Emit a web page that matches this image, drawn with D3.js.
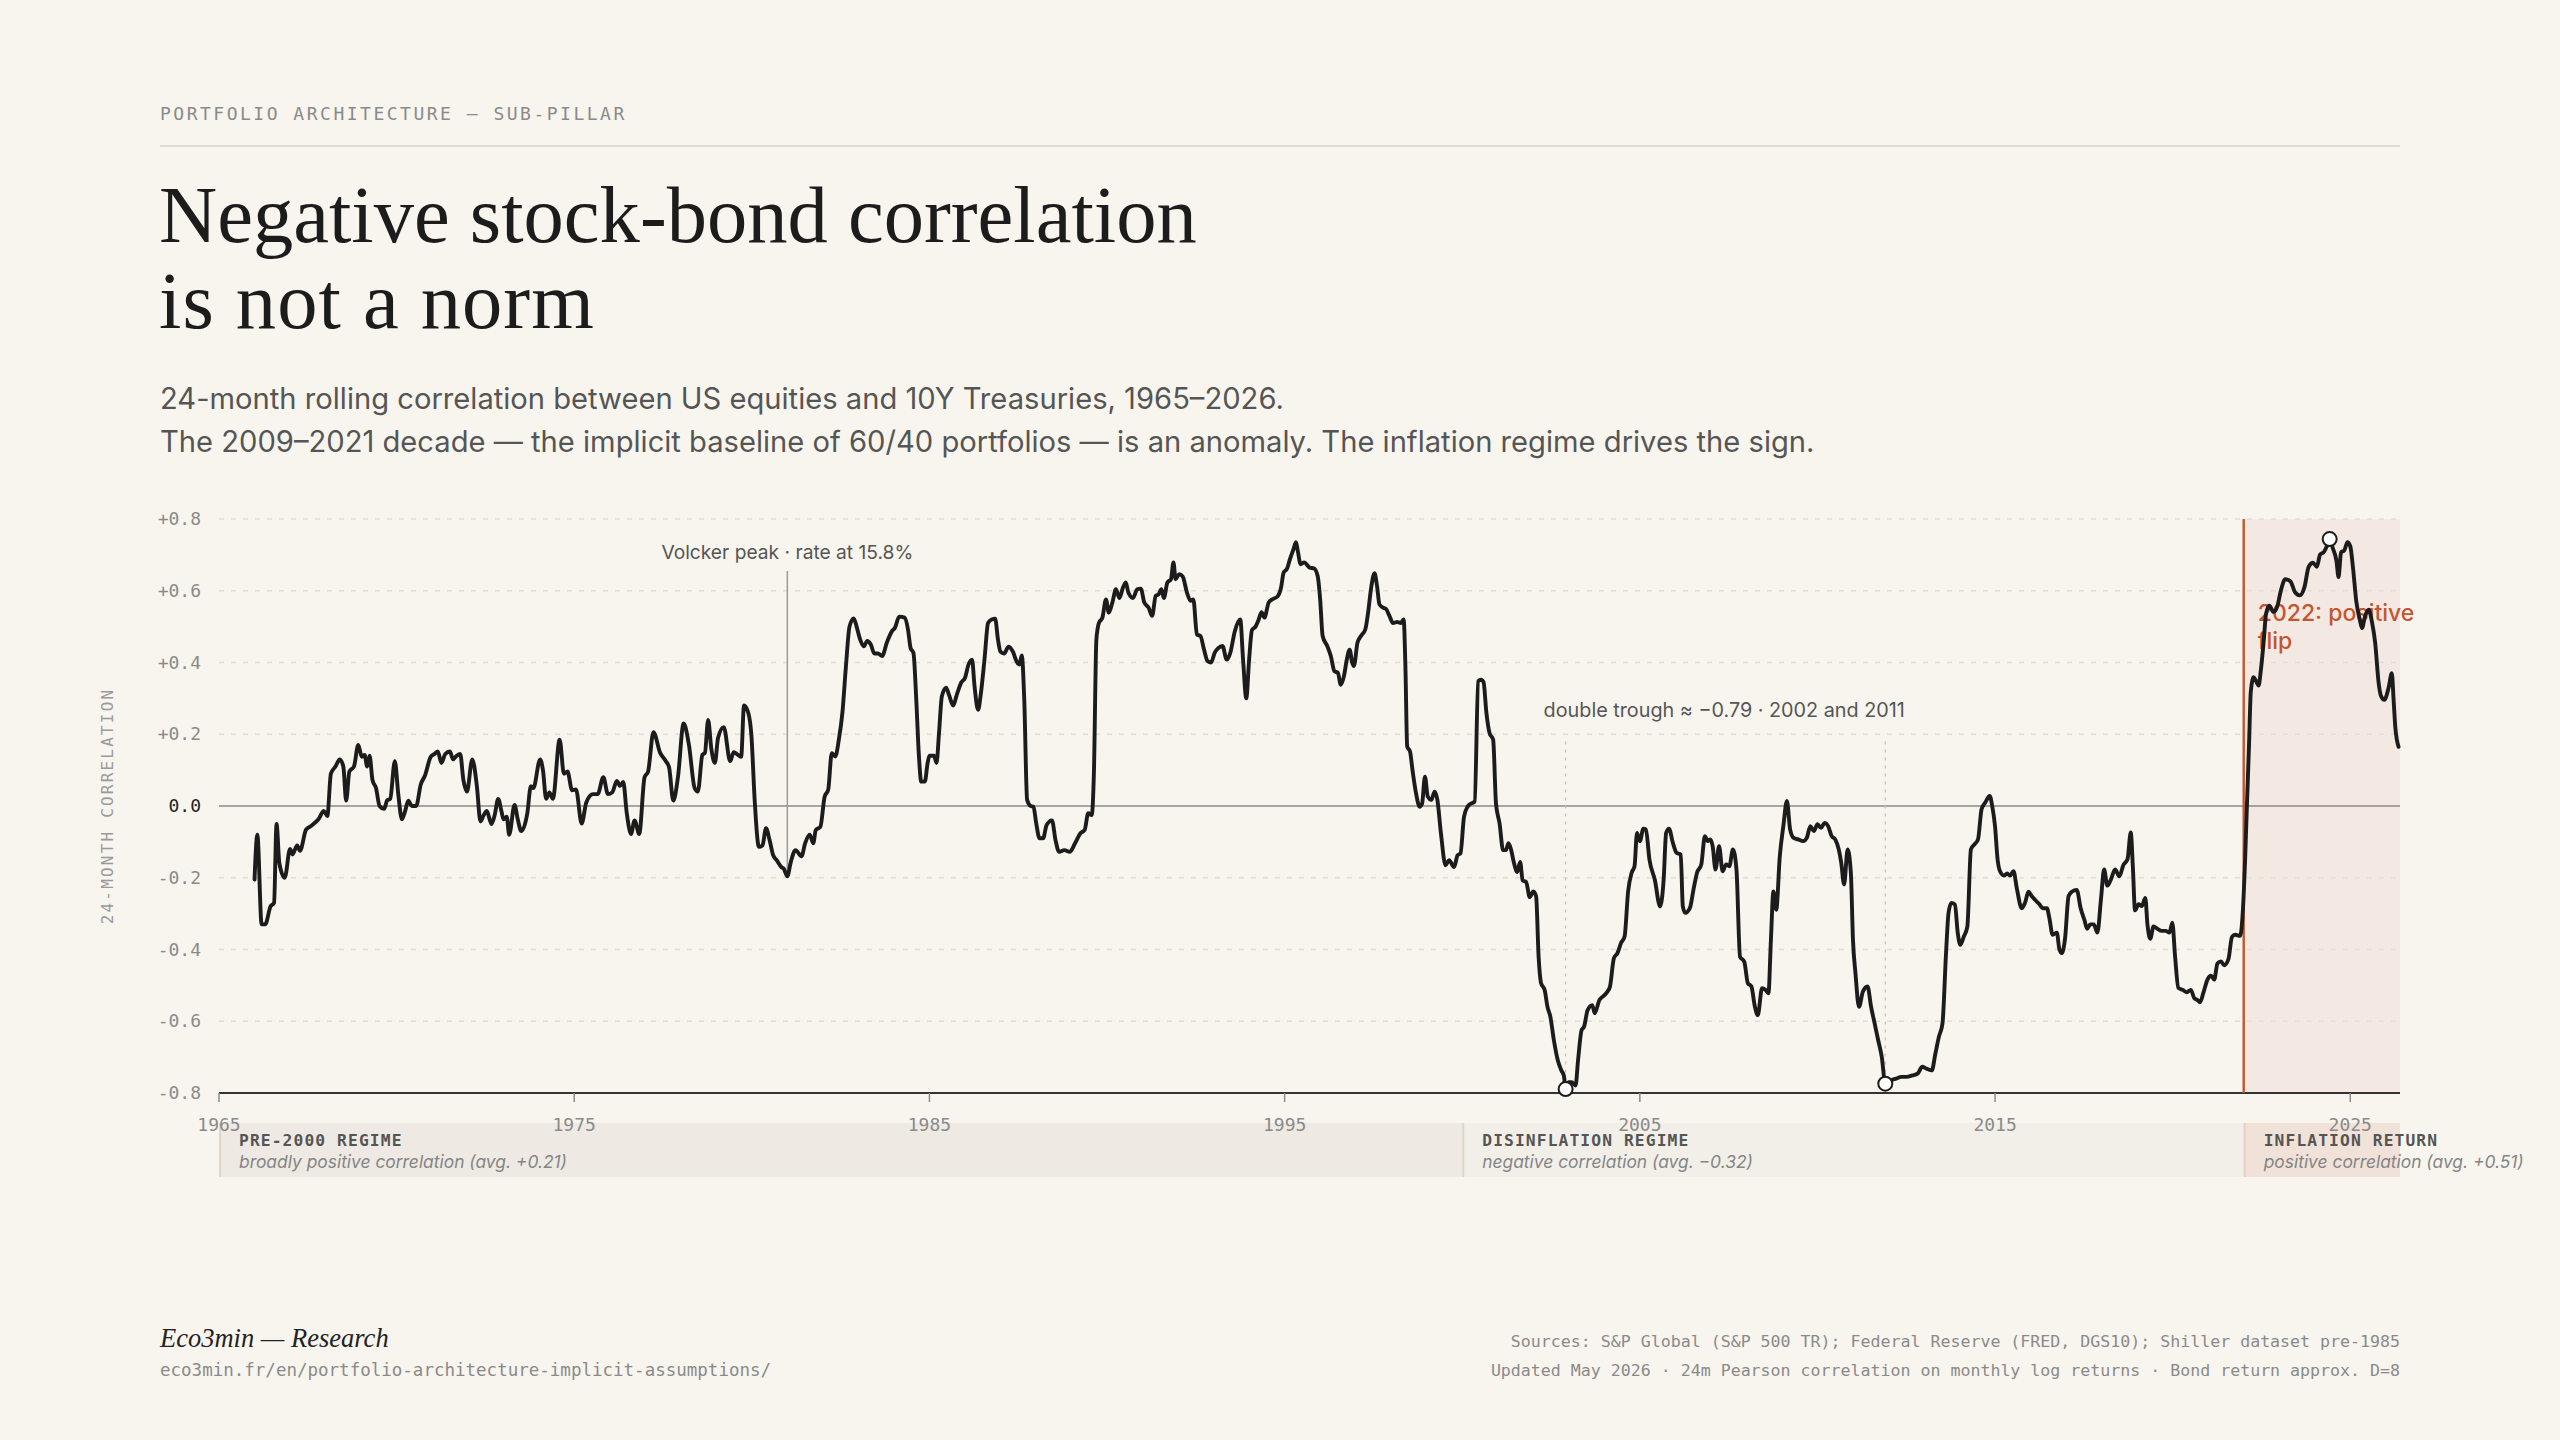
<!DOCTYPE html>
<html><head><meta charset="utf-8">
<script src="https://cdn.jsdelivr.net/npm/d3@7"></script>
<style>html,body{margin:0;background:#f8f5ee;} svg{display:block}</style>
</head><body>
<svg id="c" width="2560" height="1440"></svg>
<script>
// ---------- DATA ----------
const corrSeries = [
[1966.00,-0.205],[1966.08,-0.08],[1966.20,-0.33],[1966.30,-0.33],[1966.45,-0.28],[1966.55,-0.27],[1966.62,-0.05],[1966.70,-0.16],[1966.85,-0.20],
[1967.00,-0.12],[1967.07,-0.135],[1967.20,-0.11],[1967.28,-0.125],[1967.45,-0.066],[1967.60,-0.055],[1967.80,-0.037],[1967.95,-0.014],
[1968.05,-0.028],[1968.15,0.09],[1968.28,0.11],[1968.40,0.13],[1968.50,0.11],[1968.58,0.015],[1968.67,0.096],[1968.80,0.11],[1968.92,0.17],
[1969.02,0.137],[1969.10,0.142],[1969.17,0.11],[1969.24,0.14],[1969.32,0.073],[1969.42,0.05],[1969.52,0.0],[1969.65,-0.008],[1969.73,0.015],[1969.82,0.02],[1969.95,0.125],
[1970.05,0.03],[1970.15,-0.037],[1970.24,-0.014],[1970.33,0.015],[1970.43,0.0],[1970.55,0.0],[1970.68,0.06],[1970.80,0.085],[1970.96,0.137],
[1971.08,0.146],[1971.16,0.152],[1971.26,0.12],[1971.37,0.145],[1971.50,0.152],[1971.59,0.13],[1971.69,0.14],[1971.79,0.145],[1971.88,0.073],[1971.98,0.04],
[1972.13,0.13],[1972.26,0.055],[1972.36,-0.043],[1972.45,-0.026],[1972.54,-0.014],[1972.67,-0.05],[1972.76,-0.026],[1972.86,0.02],[1972.95,-0.014],
[1973.01,-0.037],[1973.10,-0.03],[1973.17,-0.08],[1973.32,0.003],[1973.41,-0.037],[1973.51,-0.07],[1973.68,-0.02],[1973.78,0.055],[1973.85,0.05],
[1974.04,0.13],[1974.12,0.10],[1974.21,0.02],[1974.30,0.038],[1974.40,0.02],[1974.59,0.185],[1974.71,0.09],[1974.81,0.096],[1974.94,0.044],
[1975.05,0.046],[1975.21,-0.049],[1975.34,0.01],[1975.53,0.033],[1975.66,0.033],[1975.82,0.08],[1975.95,0.033],
[1976.07,0.038],[1976.20,0.07],[1976.29,0.056],[1976.38,0.067],[1976.48,-0.02],[1976.60,-0.078],[1976.70,-0.04],[1976.83,-0.078],[1976.98,0.08],
[1977.08,0.096],[1977.23,0.206],[1977.42,0.148],[1977.58,0.125],[1977.67,0.108],[1977.79,0.015],[1977.92,0.08],
[1978.08,0.23],[1978.23,0.17],[1978.39,0.05],[1978.48,0.04],[1978.61,0.143],[1978.68,0.148],[1978.77,0.24],[1978.86,0.16],[1978.96,0.12],
[1979.05,0.19],[1979.21,0.22],[1979.39,0.125],[1979.49,0.15],[1979.62,0.142],[1979.70,0.137],[1979.78,0.28],[1979.90,0.26],[1979.99,0.195],
[1980.08,0.017],[1980.20,-0.114],[1980.30,-0.11],[1980.40,-0.062],[1980.50,-0.095],[1980.60,-0.137],[1980.70,-0.151],[1980.83,-0.17],[1980.90,-0.175],
[1981.00,-0.196],[1981.10,-0.155],[1981.23,-0.123],[1981.40,-0.14],[1981.50,-0.104],[1981.63,-0.08],[1981.73,-0.104],[1981.80,-0.067],[1981.93,-0.058],
[1982.05,0.026],[1982.15,0.045],[1982.25,0.147],[1982.35,0.138],[1982.45,0.185],[1982.55,0.26],[1982.65,0.39],[1982.75,0.50],[1982.87,0.523],[1982.95,0.50],
[1983.05,0.464],[1983.15,0.445],[1983.25,0.46],[1983.35,0.45],[1983.45,0.425],[1983.55,0.425],[1983.67,0.418],[1983.80,0.455],[1983.95,0.488],
[1984.03,0.497],[1984.15,0.528],[1984.30,0.525],[1984.40,0.49],[1984.47,0.44],[1984.55,0.427],[1984.63,0.296],[1984.70,0.147],[1984.77,0.068],[1984.87,0.068],[1984.95,0.12],
[1985.00,0.14],[1985.13,0.14],[1985.20,0.12],[1985.27,0.203],[1985.35,0.306],[1985.47,0.33],[1985.55,0.31],[1985.67,0.28],[1985.77,0.31],[1985.90,0.345],
[1986.00,0.357],[1986.10,0.394],[1986.20,0.408],[1986.27,0.334],[1986.37,0.268],[1986.45,0.315],[1986.55,0.408],[1986.65,0.51],[1986.75,0.52],[1986.85,0.522],[1986.93,0.464],
[1987.00,0.43],[1987.10,0.425],[1987.23,0.444],[1987.35,0.43],[1987.45,0.404],[1987.53,0.394],[1987.60,0.42],[1987.67,0.296],[1987.75,0.017],[1987.85,0.0],[1987.93,-0.002],
[1988.00,-0.044],[1988.10,-0.09],[1988.20,-0.09],[1988.30,-0.053],[1988.45,-0.04],[1988.55,-0.095],[1988.65,-0.128],[1988.80,-0.123],[1988.95,-0.128],
[1989.10,-0.104],[1989.25,-0.076],[1989.37,-0.067],[1989.47,-0.02],[1989.57,-0.025],[1989.63,0.09],[1989.70,0.464],[1989.77,0.51],[1989.87,0.525],[1989.97,0.576],
[1990.05,0.539],[1990.15,0.567],[1990.25,0.604],[1990.35,0.58],[1990.45,0.609],[1990.53,0.623],[1990.60,0.595],[1990.73,0.58],[1990.85,0.604],[1990.95,0.606],
[1991.05,0.567],[1991.17,0.553],[1991.27,0.53],[1991.37,0.586],[1991.45,0.59],[1991.53,0.604],[1991.60,0.58],[1991.70,0.623],[1991.80,0.632],[1991.87,0.679],[1991.93,0.632],
[1992.03,0.646],[1992.13,0.64],[1992.25,0.595],[1992.35,0.572],[1992.43,0.576],[1992.53,0.478],[1992.63,0.474],[1992.73,0.436],[1992.83,0.404],[1992.93,0.40],
[1993.03,0.427],[1993.13,0.44],[1993.25,0.446],[1993.37,0.408],[1993.47,0.427],[1993.60,0.488],[1993.75,0.52],[1993.83,0.408],[1993.92,0.30],
[1994.00,0.408],[1994.08,0.49],[1994.18,0.50],[1994.27,0.52],[1994.35,0.54],[1994.43,0.525],[1994.55,0.567],[1994.65,0.576],[1994.80,0.584],[1994.90,0.609],[1994.97,0.65],
[1995.07,0.662],[1995.15,0.688],[1995.25,0.716],[1995.32,0.735],[1995.37,0.711],[1995.45,0.674],[1995.55,0.679],[1995.70,0.665],[1995.83,0.662],[1995.93,0.641],
[1996.00,0.576],[1996.07,0.474],[1996.20,0.446],[1996.30,0.418],[1996.40,0.376],[1996.50,0.371],[1996.58,0.338],[1996.67,0.362],[1996.75,0.408],[1996.83,0.436],[1996.90,0.40],[1996.95,0.39],
[1997.05,0.455],[1997.15,0.474],[1997.27,0.492],[1997.35,0.539],[1997.43,0.604],[1997.53,0.649],[1997.60,0.614],[1997.67,0.562],[1997.77,0.553],[1997.85,0.55],[1997.95,0.53],
[1998.05,0.51],[1998.17,0.513],[1998.27,0.51],[1998.35,0.52],[1998.40,0.39],[1998.45,0.166],[1998.53,0.152],[1998.60,0.10],[1998.70,0.035],[1998.80,-0.002],[1998.87,0.007],[1998.95,0.082],
[1999.03,0.026],[1999.13,0.017],[1999.22,0.04],[1999.30,0.017],[1999.40,-0.076],[1999.53,-0.165],[1999.63,-0.151],[1999.77,-0.17],[1999.87,-0.137],[1999.95,-0.132],
[2000.05,-0.03],[2000.15,-0.002],[2000.25,0.007],[2000.35,0.012],[2000.45,0.348],[2000.53,0.352],[2000.60,0.345],[2000.68,0.26],[2000.77,0.203],[2000.87,0.185],[2000.95,0.007],
[2001.05,-0.048],[2001.15,-0.123],[2001.23,-0.123],[2001.30,-0.104],[2001.37,-0.12],[2001.45,-0.156],[2001.55,-0.184],[2001.63,-0.156],[2001.70,-0.207],[2001.80,-0.212],[2001.90,-0.254],
[2002.00,-0.238],[2002.08,-0.252],[2002.15,-0.42],[2002.22,-0.494],[2002.32,-0.513],[2002.40,-0.56],[2002.48,-0.587],[2002.58,-0.653],[2002.69,-0.709],[2002.79,-0.737],[2002.86,-0.751],[2002.91,-0.789],
[2003.00,-0.77],[2003.08,-0.77],[2003.19,-0.779],[2003.26,-0.709],[2003.36,-0.625],[2003.43,-0.615],[2003.53,-0.569],[2003.66,-0.555],[2003.73,-0.578],[2003.86,-0.541],[2003.96,-0.531],
[2004.09,-0.517],[2004.16,-0.503],[2004.27,-0.424],[2004.37,-0.41],[2004.47,-0.382],[2004.57,-0.364],[2004.67,-0.238],[2004.77,-0.186],[2004.85,-0.168],[2004.92,-0.075],
[2005.00,-0.098],[2005.10,-0.063],[2005.17,-0.065],[2005.27,-0.149],[2005.42,-0.205],[2005.57,-0.28],[2005.67,-0.205],[2005.74,-0.075],[2005.82,-0.063],[2005.93,-0.103],
[2006.03,-0.13],[2006.15,-0.135],[2006.21,-0.28],[2006.28,-0.298],[2006.41,-0.284],[2006.51,-0.233],[2006.61,-0.186],[2006.73,-0.163],[2006.83,-0.084],[2006.91,-0.098],[2006.98,-0.093],
[2007.05,-0.112],[2007.13,-0.177],[2007.23,-0.112],[2007.33,-0.182],[2007.43,-0.163],[2007.52,-0.168],[2007.62,-0.121],[2007.72,-0.177],[2007.82,-0.42],[2007.94,-0.434],
[2008.04,-0.494],[2008.14,-0.503],[2008.24,-0.56],[2008.32,-0.583],[2008.44,-0.508],[2008.54,-0.513],[2008.62,-0.522],[2008.69,-0.373],[2008.76,-0.238],[2008.84,-0.289],[2008.94,-0.14],
[2009.04,-0.056],[2009.14,0.014],[2009.23,-0.065],[2009.33,-0.089],[2009.45,-0.093],[2009.60,-0.098],[2009.70,-0.089],[2009.80,-0.056],[2009.90,-0.07],
[2010.00,-0.051],[2010.10,-0.061],[2010.20,-0.047],[2010.30,-0.056],[2010.40,-0.084],[2010.50,-0.093],[2010.60,-0.121],[2010.67,-0.159],[2010.75,-0.219],[2010.85,-0.121],[2010.94,-0.186],
[2011.00,-0.373],[2011.07,-0.466],[2011.17,-0.56],[2011.28,-0.517],[2011.41,-0.503],[2011.51,-0.56],[2011.61,-0.606],[2011.71,-0.653],[2011.81,-0.699],[2011.91,-0.774],
[2012.06,-0.765],[2012.21,-0.76],[2012.36,-0.755],[2012.51,-0.755],[2012.67,-0.751],[2012.82,-0.746],[2012.95,-0.727],
[2013.07,-0.732],[2013.22,-0.737],[2013.32,-0.69],[2013.42,-0.643],[2013.52,-0.606],[2013.62,-0.41],[2013.69,-0.298],[2013.77,-0.27],[2013.87,-0.275],[2013.95,-0.354],
[2014.02,-0.387],[2014.12,-0.364],[2014.22,-0.336],[2014.32,-0.121],[2014.42,-0.107],[2014.52,-0.093],[2014.62,-0.009],[2014.72,0.009],[2014.85,0.028],[2014.92,0.0],
[2015.00,-0.057],[2015.07,-0.148],[2015.14,-0.182],[2015.25,-0.194],[2015.34,-0.188],[2015.42,-0.194],[2015.52,-0.182],[2015.61,-0.228],[2015.75,-0.285],[2015.85,-0.268],[2015.94,-0.239],
[2016.03,-0.251],[2016.13,-0.262],[2016.25,-0.274],[2016.34,-0.285],[2016.46,-0.285],[2016.53,-0.313],[2016.62,-0.359],[2016.74,-0.353],[2016.81,-0.399],[2016.88,-0.41],[2016.97,-0.37],
[2017.07,-0.251],[2017.16,-0.239],[2017.30,-0.234],[2017.41,-0.285],[2017.52,-0.319],[2017.59,-0.342],[2017.68,-0.33],[2017.78,-0.33],[2017.88,-0.353],[2017.98,-0.262],
[2018.07,-0.177],[2018.16,-0.222],[2018.26,-0.205],[2018.38,-0.177],[2018.50,-0.196],[2018.61,-0.165],[2018.73,-0.148],[2018.82,-0.074],[2018.88,-0.171],[2018.94,-0.291],
[2019.04,-0.274],[2019.13,-0.279],[2019.23,-0.256],[2019.29,-0.33],[2019.37,-0.37],[2019.46,-0.336],[2019.57,-0.342],[2019.69,-0.348],[2019.80,-0.348],[2019.91,-0.353],[2019.99,-0.325],
[2020.07,-0.422],[2020.16,-0.507],[2020.29,-0.513],[2020.40,-0.519],[2020.51,-0.513],[2020.61,-0.536],[2020.70,-0.541],[2020.77,-0.547],[2020.87,-0.519],[2020.98,-0.484],
[2021.08,-0.473],[2021.17,-0.484],[2021.26,-0.439],[2021.36,-0.433],[2021.45,-0.444],[2021.57,-0.427],[2021.67,-0.365],[2021.76,-0.359],[2021.90,-0.362],[2021.98,-0.285],
[2022.04,-0.148],[2022.09,0.0],[2022.15,0.171],[2022.20,0.319],[2022.28,0.359],[2022.35,0.348],[2022.42,0.336],[2022.48,0.376],[2022.56,0.456],[2022.63,0.536],[2022.72,0.558],[2022.84,0.541],[2022.95,0.558],
[2023.04,0.598],[2023.17,0.632],[2023.31,0.627],[2023.45,0.595],[2023.58,0.587],[2023.71,0.61],[2023.83,0.667],[2023.95,0.678],
[2024.06,0.667],[2024.15,0.701],[2024.25,0.707],[2024.34,0.724],[2024.42,0.744],[2024.51,0.718],[2024.61,0.684],[2024.67,0.638],[2024.74,0.707],[2024.83,0.712],[2024.92,0.735],
[2025.00,0.724],[2025.08,0.661],[2025.17,0.57],[2025.27,0.519],[2025.33,0.496],[2025.42,0.53],[2025.52,0.547],[2025.61,0.513],[2025.70,0.456],[2025.80,0.342],[2025.86,0.308],[2025.96,0.296],
[2026.08,0.33],[2026.17,0.37],[2026.22,0.296],[2026.27,0.217],[2026.36,0.165]
];
const xDomain = [1965, 2026.4];
const yTickValues = [0.8, 0.6, 0.4, 0.2, 0, -0.2, -0.4, -0.6, -0.8];
const yTickLabels = ["+0.8", "+0.6", "+0.4", "+0.2", "0.0", "-0.2", "-0.4", "-0.6", "-0.8"];
const xTickValues = [1965, 1975, 1985, 1995, 2005, 2015, 2025];
const regimeNames = ["PRE-2000 REGIME", "DISINFLATION REGIME", "INFLATION RETURN"];
const regimeNotes = ["broadly positive correlation (avg. +0.21)", "negative correlation (avg. −0.32)", "positive correlation (avg. +0.51)"];
const regimeStarts = [1965, 2000, 2022];
const regimeEnds = [2000, 2022, 2026.4];
const regimeFills = ["#eeeae3", "#f2efe9", "#f1e2d9"];
const volckerYear = 1981.0;
const flipYear = 2022.0;

// ---------- LAYOUT ----------
const svg = d3.select("#c");
const W = 2560, H = 1440;
const M = {left: 219, right: 2400, top: 519, bottom: 1093};
const MONO = "'DejaVu Sans Mono', 'Liberation Mono', monospace";
const SANS = "Inter, 'Noto Sans', sans-serif";
const SERIF = "'Liberation Serif', 'DejaVu Serif', serif";
const RED = "#c4552f";

svg.append("rect").attr("width", W).attr("height", H).attr("fill", "#f8f5ee");

// header
svg.append("text").attr("x", 160).attr("y", 120).attr("font-family", MONO).attr("font-size", 18)
  .attr("letter-spacing", 2.5).attr("fill", "#8a8a8a").text("PORTFOLIO ARCHITECTURE — SUB-PILLAR");
svg.append("line").attr("x1", 160).attr("x2", 2400).attr("y1", 146).attr("y2", 146)
  .attr("stroke", "#dfdbd2").attr("stroke-width", 2);

const t1 = svg.append("text").attr("x", 159).attr("y", 242).attr("font-family", SERIF)
  .attr("font-size", 100).attr("fill", "#1c1c1c").text("Negative stock-bond correlation");
const tfs = 100 * 1038 / t1.node().getComputedTextLength();
t1.attr("font-size", tfs);
svg.append("text").attr("x", 159).attr("y", 328).attr("font-family", SERIF)
  .attr("font-size", tfs).attr("letter-spacing", 1).attr("fill", "#1c1c1c").text("is not a norm");

const s2 = svg.append("text").attr("x", 160).attr("y", 452).attr("font-family", SANS)
  .attr("font-size", 28).attr("fill", "#555").text("The 2009–2021 decade — the implicit baseline of 60/40 portfolios — is an anomaly. The inflation regime drives the sign.");
const sfs = 28 * 1655 / s2.node().getComputedTextLength();
s2.attr("font-size", sfs);
svg.append("text").attr("x", 160).attr("y", 409).attr("font-family", SANS)
  .attr("font-size", sfs).attr("fill", "#555").text("24-month rolling correlation between US equities and 10Y Treasuries, 1965–2026.");

// scales
const x = d3.scaleLinear().domain(xDomain).range([M.left, M.right]);
const y = d3.scaleLinear().domain([-0.8, 0.8]).range([M.bottom, M.top]);

// inflation shading
svg.append("rect").attr("x", x(flipYear)).attr("y", y(0.8))
  .attr("width", x(xDomain[1]) - x(flipYear)).attr("height", y(-0.8) - y(0.8))
  .attr("fill", "#f3e9e2");

// gridlines
svg.append("g").selectAll("line").data(yTickValues.filter(v => v !== 0 && v !== -0.8)).join("line")
  .attr("x1", M.left).attr("x2", M.right).attr("y1", d => y(d)).attr("y2", d => y(d))
  .attr("stroke", "#e2ded5").attr("stroke-width", 1.5).attr("stroke-dasharray", "5,7");

// y tick labels
svg.append("g").selectAll("text").data(yTickValues).join("text")
  .attr("x", 201).attr("y", d => y(d) + 6).attr("text-anchor", "end")
  .attr("font-family", MONO).attr("font-size", 18)
  .attr("fill", d => d === 0 ? "#222" : "#8a8a8a")
  .text((d, i) => yTickLabels[i]);

// y axis title
svg.append("text").attr("transform", `translate(113,${(M.top + M.bottom) / 2}) rotate(-90)`)
  .attr("text-anchor", "middle").attr("font-family", MONO).attr("font-size", 16)
  .attr("letter-spacing", 2.2).attr("fill", "#9a9a9a").text("24-MONTH CORRELATION");

// zero line
svg.append("line").attr("x1", M.left).attr("x2", M.right).attr("y1", y(0)).attr("y2", y(0))
  .attr("stroke", "#8a8a8a").attr("stroke-width", 1.6);

// regime bands
const bands = svg.append("g");
regimeNames.forEach((name, i) => {
  const bx = x(regimeStarts[i]), bw = x(regimeEnds[i]) - x(regimeStarts[i]);
  bands.append("rect").attr("x", bx).attr("y", 1123).attr("width", bw).attr("height", 54).attr("fill", regimeFills[i]);
  bands.append("line").attr("x1", bx + 1).attr("x2", bx + 1).attr("y1", 1123).attr("y2", 1177)
    .attr("stroke", i === 2 ? "#e6cfc2" : "#dbd5ca").attr("stroke-width", 2);
  bands.append("text").attr("x", bx + 20).attr("y", 1146).attr("font-family", MONO).attr("font-weight", "bold")
    .attr("font-size", 16.3).attr("letter-spacing", 1.1).attr("fill", "#555").text(name);
  bands.append("text").attr("x", bx + 20).attr("y", 1168).attr("font-family", SANS).attr("font-style", "italic")
    .attr("font-size", 17.4).attr("fill", "#858585").text(regimeNotes[i]);
});

// x axis
svg.append("line").attr("x1", M.left).attr("x2", M.right).attr("y1", y(-0.8)).attr("y2", y(-0.8))
  .attr("stroke", "#333").attr("stroke-width", 2.2);
svg.append("g").selectAll("line").data(xTickValues).join("line")
  .attr("x1", d => x(d)).attr("x2", d => x(d)).attr("y1", M.bottom).attr("y2", M.bottom + 9)
  .attr("stroke", "#8a8a8a").attr("stroke-width", 1.5);
svg.append("g").selectAll("text").data(xTickValues).join("text")
  .attr("x", d => x(d)).attr("y", 1131).attr("text-anchor", "middle")
  .attr("font-family", MONO).attr("font-size", 18).attr("fill", "#8a8a8a").text(d => d);

// annotations: markers from data
const inRange = (a, b) => corrSeries.filter(d => d[0] >= a && d[0] <= b);
const trough1 = d3.least(inRange(2001, 2005), d => d[1]);
const trough2 = d3.least(inRange(2010, 2014), d => d[1]);
const peak = d3.greatest(inRange(2022, 2027), d => d[1]);
const volckerPt = corrSeries.find(d => d[0] >= volckerYear);

// Volcker
svg.append("line").attr("x1", x(volckerYear)).attr("x2", x(volckerYear))
  .attr("y1", y(0.655)).attr("y2", y(volckerPt[1]))
  .attr("stroke", "#9a9a9a").attr("stroke-width", 1.5);
svg.append("text").attr("x", x(volckerYear)).attr("y", 559).attr("text-anchor", "middle")
  .attr("font-family", SANS).attr("font-size", 19.2).attr("fill", "#555").text("Volcker peak · rate at 15.8%");

// double trough
[trough1, trough2].forEach(t => {
  svg.append("line").attr("x1", x(t[0])).attr("x2", x(t[0])).attr("y1", y(0.18)).attr("y2", y(t[1]))
    .attr("stroke", "#c8c4bb").attr("stroke-width", 1.3).attr("stroke-dasharray", "3,5");
});
svg.append("text").attr("x", x(trough1[0]) - 22).attr("y", 717)
  .attr("font-family", SANS).attr("font-size", 19.8).attr("fill", "#555")
  .text("double trough ≈ −0.79 · 2002 and 2011");

// 2022 flip
svg.append("line").attr("x1", x(flipYear)).attr("x2", x(flipYear)).attr("y1", y(0.8)).attr("y2", y(-0.8))
  .attr("stroke", RED).attr("stroke-width", 2.4);
const flipT = svg.append("text").attr("font-family", SANS).attr("font-size", 23).attr("font-weight", 500).attr("fill", RED);
flipT.append("tspan").attr("x", x(flipYear) + 14).attr("y", 621).text("2022: positive");
flipT.append("tspan").attr("x", x(flipYear) + 14).attr("y", 649).text("flip");

// main line
const line = d3.line().x(d => x(d[0])).y(d => y(d[1])).curve(d3.curveMonotoneX);
svg.append("path").datum(corrSeries).attr("d", line).attr("fill", "none")
  .attr("stroke", "#1c1c1c").attr("stroke-width", 3.9).attr("stroke-linejoin", "round").attr("stroke-linecap", "round");

// markers
svg.append("g").selectAll("circle").data([trough1, trough2, peak]).join("circle")
  .attr("cx", d => x(d[0])).attr("cy", d => y(d[1])).attr("r", 7)
  .attr("fill", "#ffffff").attr("stroke", "#1c1c1c").attr("stroke-width", 2);

// footer
svg.append("text").attr("x", 160).attr("y", 1347).attr("font-family", SERIF).attr("font-style", "italic")
  .attr("font-size", 26.5).attr("fill", "#222").text("Eco3min — Research");
svg.append("text").attr("x", 160).attr("y", 1376).attr("font-family", MONO)
  .attr("font-size", 17.5).attr("fill", "#8a8a8a").text("eco3min.fr/en/portfolio-architecture-implicit-assumptions/");
svg.append("text").attr("x", 2400).attr("y", 1347).attr("text-anchor", "end").attr("font-family", MONO)
  .attr("font-size", 16.6).attr("fill", "#8a8a8a").text("Sources: S&P Global (S&P 500 TR); Federal Reserve (FRED, DGS10); Shiller dataset pre-1985");
svg.append("text").attr("x", 2400).attr("y", 1376).attr("text-anchor", "end").attr("font-family", MONO)
  .attr("font-size", 16.6).attr("fill", "#8a8a8a").text("Updated May 2026 · 24m Pearson correlation on monthly log returns · Bond return approx. D=8");
</script>
</body></html>
